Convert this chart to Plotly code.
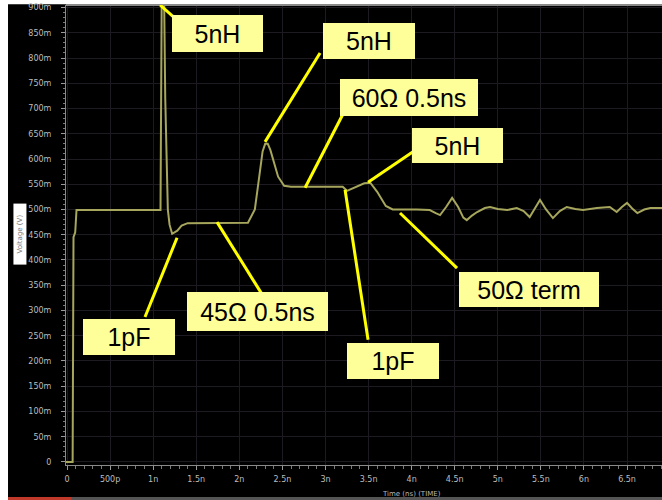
import plotly.graph_objects as go

# TDR waveform: time in ns, amplitude in volts
time_ns = [-0.012, 0.065, 0.075, 0.095, 0.11, 0.60, 1.085, 1.10, 1.125, 1.14, 1.17, 1.19,
           1.22, 1.28, 1.33, 1.40, 1.70, 2.10, 2.18, 2.23, 2.27, 2.30, 2.33, 2.36, 2.40,
           2.45, 2.52, 2.60, 3.00, 3.20, 3.25, 3.32, 3.45, 3.52, 3.60, 3.70, 3.78, 4.06,
           4.21, 4.28, 4.33, 4.40, 4.47, 4.54, 4.60, 4.64, 4.70, 4.76, 4.85, 4.91, 5.00,
           5.11, 5.22, 5.30, 5.37, 5.43, 5.49, 5.56, 5.64, 5.72, 5.80, 5.90, 5.99, 6.15,
           6.30, 6.34, 6.38, 6.44, 6.50, 6.56, 6.62, 6.70, 6.77, 6.91]
volts = [0.0, 0.0, 0.445, 0.455, 0.499, 0.499, 0.499, 0.95, 0.95, 0.72, 0.50, 0.47,
         0.452, 0.458, 0.468, 0.473, 0.474, 0.474, 0.50, 0.56, 0.615, 0.630, 0.630, 0.618,
         0.592, 0.565, 0.547, 0.545, 0.545, 0.545, 0.537, 0.542, 0.552, 0.553, 0.535, 0.507,
         0.500, 0.500, 0.499, 0.493, 0.489, 0.505, 0.523, 0.505, 0.484, 0.479, 0.488, 0.495,
         0.503, 0.505, 0.501, 0.499, 0.503, 0.497, 0.485, 0.502, 0.519, 0.500, 0.483, 0.497,
         0.505, 0.501, 0.499, 0.503, 0.505, 0.500, 0.495, 0.505, 0.513, 0.502, 0.493, 0.500,
         0.503, 0.503]

# Axis ticks
y_tick_vals = [i * 0.05 for i in range(19)]
y_tick_text = ["0"] + [f"{i * 50}m" for i in range(1, 19)]
x_tick_vals = [i * 0.5 for i in range(14)]
x_tick_text = ["0", "500p", "1n", "1.5n", "2n", "2.5n", "3n", "3.5n", "4n",
               "4.5n", "5n", "5.5n", "6n", "6.5n"]

# Callouts: label, box centre (ns, V), box size (px), leader start and end (ns, V)
callout_text = ["5nH", "5nH", "60Ω 0.5ns", "5nH", "50Ω term", "1pF", "1pF", "45Ω 0.5ns"]
callout_x = [1.747, 3.505, 3.970, 4.533, 5.363, 3.784, 0.720, 2.211]
callout_y = [0.8485, 0.834, 0.722, 0.627, 0.342, 0.200, 0.248, 0.298]
callout_w = [91, 92, 138, 91, 140, 92, 92, 141]
callout_h = [37, 36, 37, 35, 35, 36, 36, 39]
leader_x0 = [1.080, 2.298, 2.763, 3.494, 3.865, 3.227, 1.277, 1.741]
leader_y0 = [0.905, 0.634, 0.543, 0.554, 0.493, 0.539, 0.444, 0.475]
leader_x1 = [1.277, 2.937, 3.239, 4.063, 4.527, 3.494, 0.905, 2.275]
leader_y1 = [0.875, 0.810, 0.701, 0.620, 0.384, 0.242, 0.287, 0.329]

fig = go.Figure()
fig.add_trace(go.Scatter(x=time_ns, y=volts, mode="lines",
                         line=dict(color="#a6a65c", width=2), hoverinfo="skip"))

shapes = []
# white frame strips and bottom edge of the scope window
shapes.append(dict(type="rect", xref="paper", yref="paper", x0=-0.12, x1=-0.0973,
                   y0=-0.1, y1=1.02, fillcolor="white", line_width=0, layer="below"))
shapes.append(dict(type="rect", xref="paper", yref="paper", x0=-0.12, x1=1.01,
                   y0=1.0015, y1=1.02, fillcolor="white", line_width=0, layer="below"))
shapes.append(dict(type="rect", xref="paper", yref="paper", x0=-0.0973, x1=0.01,
                   y0=-0.0761, y1=-0.0696, fillcolor="#c0392b", line_width=0, layer="below"))
shapes.append(dict(type="rect", xref="paper", yref="paper", x0=0.01, x1=1.01,
                   y0=-0.0761, y1=-0.0696, fillcolor="#555555", line_width=0, layer="below"))
# top border of the plot area
shapes.append(dict(type="line", xref="paper", yref="paper", x0=0, x1=1, y0=1, y1=1,
                   line=dict(color="#8a8a8a", width=2)))
# leader lines
for x0, y0, x1, y1 in zip(leader_x0, leader_y0, leader_x1, leader_y1):
    shapes.append(dict(type="line", xref="x", yref="y", x0=x0, y0=y0, x1=x1, y1=y1,
                       line=dict(color="#ffff00", width=3)))

annotations = []
for t, cx, cy, w, h in zip(callout_text, callout_x, callout_y, callout_w, callout_h):
    annotations.append(dict(x=cx, y=cy, xref="x", yref="y", text=t, showarrow=False,
                            xanchor="center", yanchor="middle", width=w, height=h,
                            bgcolor="#ffff99", borderpad=0, borderwidth=0,
                            font=dict(family="Liberation Sans, Arial", size=25, color="black")))
annotations.append(dict(x=0.579, y=-0.0635, xref="paper", yref="paper",
                        xanchor="center", yanchor="middle",
                        text="Time (ns) (TIME)", showarrow=False,
                        font=dict(family="DejaVu Sans", size=7, color="#b8b8b8")))
annotations.append(dict(x=-0.0889, y=0.502, xref="paper", yref="paper",
                        text="Voltage (V)", showarrow=False, textangle=-90,
                        bgcolor="white", width=58, height=10,
                        font=dict(family="DejaVu Sans", size=7, color="#777777")))

tick_font = dict(family="DejaVu Sans", size=8, color="#bdbdbd")
fig.update_layout(
    width=662, height=500,
    margin=dict(l=66, r=0, t=5, b=35),
    paper_bgcolor="black", plot_bgcolor="black",
    showlegend=False,
    shapes=shapes, annotations=annotations,
    xaxis=dict(range=[-0.012, 6.906], tickvals=x_tick_vals, ticktext=x_tick_text,
               tickfont=tick_font, showgrid=True, gridcolor="#1d1a22", gridwidth=1,
               zeroline=False, showline=True, linecolor="#8a8a8a", linewidth=1,
               ticks="outside", ticklen=4, tickcolor="#9a9a9a", ticklabelstandoff=2,
               minor=dict(ticks="outside", ticklen=3, dtick=0.1, tickcolor="#7a7a7a",
                          showgrid=False)),
    yaxis=dict(range=[-0.006, 0.905], tickvals=y_tick_vals, ticktext=y_tick_text,
               tickfont=tick_font, showgrid=True, gridcolor="#1d1a22", gridwidth=1,
               zeroline=False, showline=True, linecolor="#8a8a8a", linewidth=1,
               ticks="outside", ticklen=4, tickcolor="#9a9a9a", ticklabelstandoff=8,
               minor=dict(ticks="outside", ticklen=2, dtick=0.01, tickcolor="#7a7a7a",
                          showgrid=False)),
)

fig.write_html("out.html")
